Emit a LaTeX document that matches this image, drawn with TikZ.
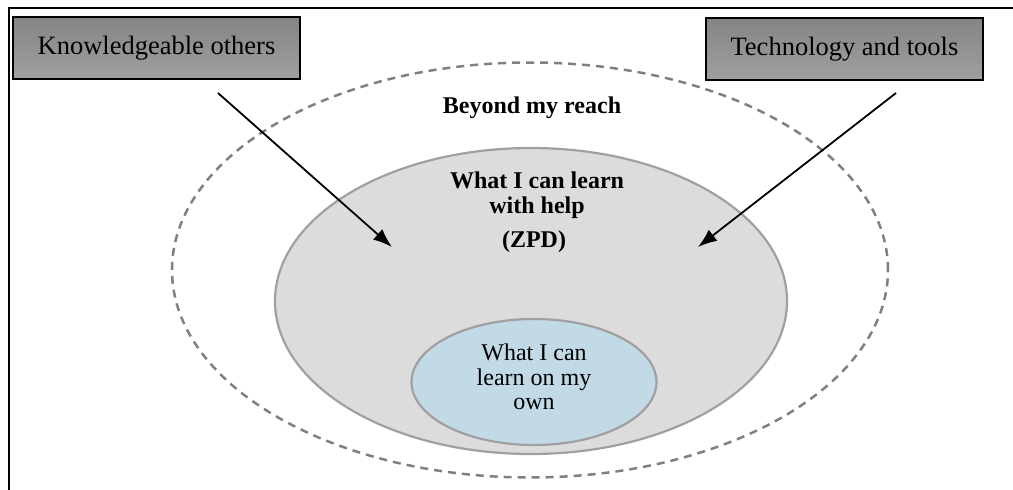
\documentclass[tikz,border=0pt]{standalone}
\usepackage{fontspec}
\setmainfont{Liberation Serif}
\usetikzlibrary{shapes.geometric,arrows.meta}
\definecolor{ringgray}{RGB}{160,160,160}
\definecolor{dashgray}{RGB}{128,128,128}
\definecolor{zpdfill}{RGB}{220,220,220}
\definecolor{ownfill}{RGB}{194,217,230}
\definecolor{boxtop}{RGB}{132,132,132}
\definecolor{boxbot}{RGB}{160,160,160}
\tikzset{
  sourcebox/.style={draw=black, line width=1.5pt, top color=boxtop, bottom color=boxbot,
    minimum height=62pt, inner sep=0pt, font=\fontsize{26.5}{30}\selectfont},
  zone/.style={ellipse, inner sep=0pt},
  zonelabel/.style={font=\fontsize{24}{25}\selectfont\bfseries, align=center, inner sep=0pt},
  ownlabel/.style={font=\fontsize{24}{24.5}\selectfont, align=center, inner sep=0pt},
  helparrow/.style={line width=1.8pt, -{Latex[length=19pt,width=14pt]}}
}
\begin{document}
\begin{tikzpicture}[x=1pt,y=-1pt]
\useasboundingbox (0,0) rectangle (1013,490);
% frame
\draw[line width=2pt] (8.5,500) -- (8.5,7.5) -- (1020,7.5);
% outer dashed ellipse
\node[zone, draw=dashgray, line width=2.5pt, dash pattern=on 8pt off 6pt,
  minimum width=716pt, minimum height=415pt] (reach) at (530,270) {};
% ZPD ellipse
\node[zone, draw=ringgray, line width=2.2pt, fill=zpdfill,
  minimum width=512pt, minimum height=306pt] (zpd) at (531,301) {};
% own ellipse
\node[zone, draw=ringgray, line width=2.2pt, fill=ownfill,
  minimum width=245pt, minimum height=126pt] (own) at (534,382) {};
% labels
\node[zonelabel] (beyond) at (532,108) {Beyond my reach};
\node[zonelabel] (help) at (537,195) {What I can learn\\with help};
\node[zonelabel] (zpdtxt) at (534,242) {(ZPD)};
\node[ownlabel] (owntxt) at (534,377) {What I can\\learn on my\\own};
% source boxes
\node[sourcebox, minimum width=287pt] (ko) at (156.5,48) {Knowledgeable others};
\node[sourcebox, minimum width=277pt] (tt) at (844.5,49) {Technology and tools};
% arrows
\coordinate (kostart) at (218,93);
\coordinate (koend) at (392,247);
\coordinate (ttstart) at (896,93);
\coordinate (ttend) at (698,247);
\draw[helparrow] (kostart) -- (koend);
\draw[helparrow] (ttstart) -- (ttend);
\end{tikzpicture}
\end{document}
